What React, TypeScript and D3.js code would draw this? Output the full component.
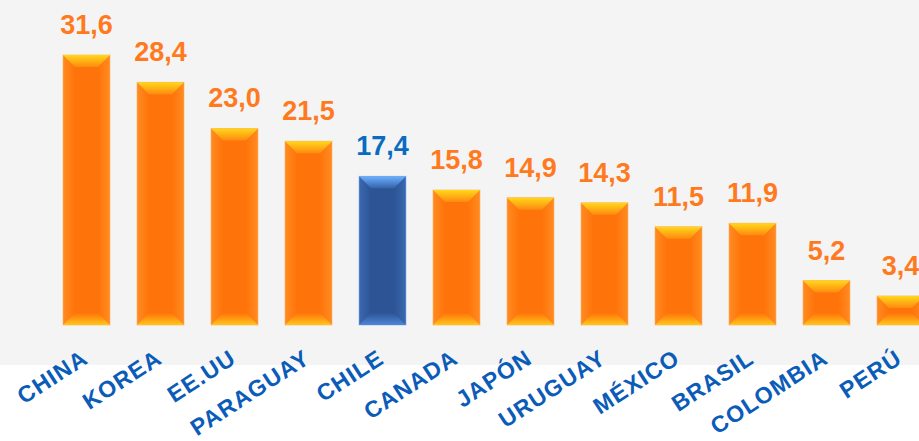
import React from 'react';
import * as d3 from "d3";

// data
const countries = ["CHINA", "KOREA", "EE.UU", "PARAGUAY", "CHILE", "CANADA", "JAPÓN", "URUGUAY", "MÉXICO", "BRASIL", "COLOMBIA", "PERÚ"];
const values = [31.6, 28.4, 23.0, 21.5, 17.4, 15.8, 14.9, 14.3, 11.5, 11.9, 5.2, 3.4];
const highlighted = ["CHILE"];

const width = 919;
const height = 441;
const baseline = 325;

const App = () => {
    const svgRef = React.useRef<SVGSVGElement>(null);

    React.useEffect(() => {
        const svg = d3.select(svgRef.current);
        svg.selectAll("*").remove();

        const x = d3.scaleBand<string>()
            .domain(countries)
            .range([49.5, 49.5 + 74 * 12])
            .paddingInner(0.365)
            .paddingOuter(0.1825);

        const y = d3.scaleLinear()
            .domain([0, 31.6])
            .range([baseline, 55]);

        const defs = svg.append("defs");
        const palettes = {
            orange: {edge: "#ff8c22", mid: "#ff740a", cap: "#ffd81a", capEnd: "#ff8a10", low: "#ffc61a"},
            blue: {edge: "#3b68b0", mid: "#2d5596", cap: "#6cb0ff", capEnd: "#3563a8", low: "#4f86d6"},
        };
        Object.entries(palettes).forEach(([k, p]) => {
            const body = defs.append("linearGradient").attr("id", "body-" + k)
                .attr("x1", 0).attr("x2", 1).attr("y1", 0).attr("y2", 0);
            body.append("stop").attr("offset", "0%").attr("stop-color", p.edge);
            body.append("stop").attr("offset", "25%").attr("stop-color", p.mid);
            body.append("stop").attr("offset", "75%").attr("stop-color", p.mid);
            body.append("stop").attr("offset", "100%").attr("stop-color", p.edge);

            const top = defs.append("linearGradient").attr("id", "top-" + k)
                .attr("x1", 0).attr("x2", 0).attr("y1", 0).attr("y2", 1);
            top.append("stop").attr("offset", "0%").attr("stop-color", p.cap);
            top.append("stop").attr("offset", "100%").attr("stop-color", p.capEnd);

            const bottom = defs.append("linearGradient").attr("id", "bottom-" + k)
                .attr("x1", 0).attr("x2", 0).attr("y1", 1).attr("y2", 0);
            bottom.append("stop").attr("offset", "0%").attr("stop-color", p.low);
            bottom.append("stop").attr("offset", "100%").attr("stop-color", p.mid);
        });

        // background: grey panel over the bars, white below
        svg.append("rect")
            .attr("width", width).attr("height", height).attr("fill", "#ffffff");
        svg.append("rect")
            .attr("width", width).attr("height", 365).attr("fill", "#f4f4f4");

        const data = countries.map((c, i) => ({name: c, value: values[i], hi: highlighted.includes(c)}));
        const bw = x.bandwidth();
        const bevel = 12;

        const bar = svg.selectAll(".bar")
            .data(data)
            .enter()
            .append("g")
            .attr("transform", d => "translate(" + x(d.name) + ",0)");

        bar.append("rect")
            .attr("x", 0)
            .attr("y", d => y(d.value))
            .attr("width", bw)
            .attr("height", d => baseline - y(d.value))
            .attr("fill", d => "url(#body-" + (d.hi ? "blue" : "orange") + ")")
            .attr("stroke", d => d.hi ? "#7fb0f0" : "#ffb060")
            .attr("stroke-width", 1)
            .attr("stroke-opacity", 0.6);

        // top bevel
        bar.append("path")
            .attr("d", d => {
                const t = y(d.value);
                const h = Math.min(bevel, (baseline - t) / 2);
                return `M0,${t}L${bw},${t}L${bw - bevel},${t + h}L${bevel},${t + h}Z`;
            })
            .attr("fill", d => "url(#top-" + (d.hi ? "blue" : "orange") + ")");

        // bottom bevel
        bar.append("path")
            .attr("d", d => {
                const t = y(d.value);
                const h = Math.min(bevel, (baseline - t) / 2);
                return `M0,${baseline}L${bw},${baseline}L${bw - bevel},${baseline - h}L${bevel},${baseline - h}Z`;
            })
            .attr("fill", d => "url(#bottom-" + (d.hi ? "blue" : "orange") + ")");

        // value labels
        svg.selectAll(".val")
            .data(data)
            .enter()
            .append("text")
            .attr("x", d => (x(d.name) ?? 0) + bw / 2)
            .attr("y", d => y(d.value) - 21)
            .attr("text-anchor", "middle")
            .attr("font-family", "Liberation Sans, Arial, sans-serif")
            .attr("font-weight", "bold")
            .attr("font-size", 27)
            .attr("fill", d => d.hi ? "#0a6cc0" : "#ff7a1e")
            .text(d => d3.format(".1f")(d.value).replace(".", ","));

        // category labels, rotated
        svg.selectAll(".cat")
            .data(data)
            .enter()
            .append("text")
            .attr("transform", d => "translate(" + ((x(d.name) ?? 0) + bw / 2 + 3) + "," + 362 + ") rotate(-33)")
            .attr("text-anchor", "end")
            .attr("font-family", "Liberation Sans, Arial, sans-serif")
            .attr("font-weight", "bold")
            .attr("font-size", 23)
            .attr("letter-spacing", 1.1)
            .attr("fill", "#0a5cb8")
            .text(d => d.name);
    }, []);

    return (
        <svg
            ref={svgRef}
            width={width}
            height={height}
            style={{position: "absolute", left: 0, top: 0}}>
        </svg>
    );
}

export default App;
